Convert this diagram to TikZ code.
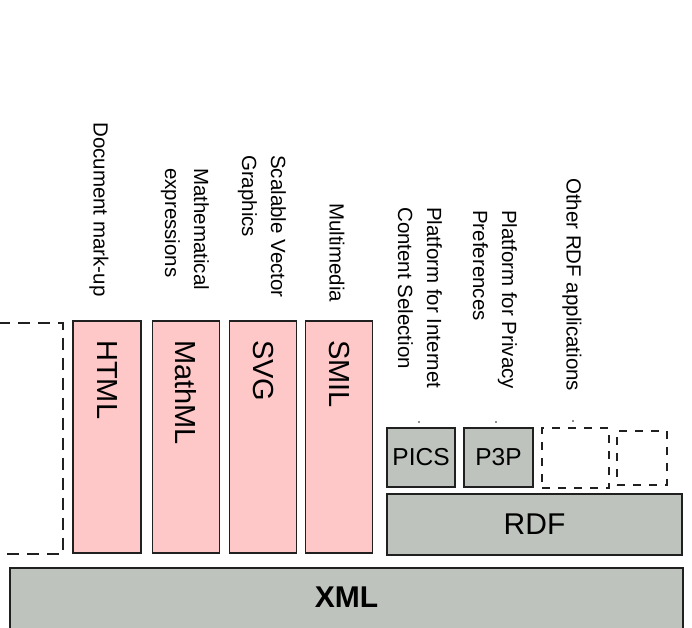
\documentclass[tikz,border=0pt]{standalone}
\usepackage{fontspec}
\setmainfont{Liberation Sans}
\definecolor{linegray}{RGB}{32,32,32}
\definecolor{langpink}{RGB}{255,200,200}
\definecolor{basegray}{RGB}{190,195,190}

\begin{document}
\begin{tikzpicture}[x=1pt,y=-1pt]
\tikzstyle{layer}=[draw=linegray,line width=1.6pt,inner sep=0pt,outer sep=0pt]
\tikzstyle{lang}=[layer,fill=langpink,minimum width=67pt,minimum height=232pt]
\tikzstyle{base}=[layer,fill=basegray]
\tikzstyle{spare}=[draw=linegray,line width=1.4pt,dash pattern=on 8pt off 8pt]
\tikzstyle{upright}=[rotate=-90,anchor=west,inner sep=0pt,align=left,font=\fontsize{20.5}{29}\selectfont]
\tikzstyle{boxname}=[rotate=-90,anchor=west,inner sep=0pt,font=\fontsize{29}{34}\selectfont]
\useasboundingbox (0,0) rectangle (692,627);

\node (xml) [base,minimum width=673pt,minimum height=72pt] at (346.5,604) {};
\node (xmlname) [font=\bfseries\fontsize{30}{34}\selectfont] at ([yshift=-29pt]xml.north) {XML};

\node (html) [lang,minimum width=68pt] at (107,437) {};
\node (mathml) [lang] at (186,437) {};
\node (svg) [lang] at (263,437) {};
\node (smil) [lang] at (339,437) {};
\node [boxname] at ([yshift=-19pt]html.north) {HTML};
\node [boxname] at ([yshift=-19pt]mathml.north) {MathML};
\node [boxname] at ([yshift=-19pt]svg.north) {SVG};
\node [boxname] at ([yshift=-19pt]smil.north) {SMIL};

\node (rdf) [base,minimum width=295pt,minimum height=61pt,font=\fontsize{30}{34}\selectfont] at (534.5,524.5) {RDF};
\node (pics) [base,minimum width=68pt,minimum height=59pt,font=\fontsize{24.5}{28}\selectfont] at (421,457.5) {PICS};
\node (ppp) [base,minimum width=69pt,minimum height=59pt,font=\fontsize{24.5}{28}\selectfont] at (498.5,457.5) {P3P};
\node (spareA) [spare,minimum width=67pt,minimum height=60pt] at (575.5,458) {};
\node (spareB) [spare,minimum width=50pt,minimum height=54pt] at (642,458) {};
\draw[spare,dash pattern=on 12pt off 8pt] (-2,323) -- (63,323) -- (63,554) -- (-2,554);

\fill[linegray] (419,422) circle (0.9pt) (496,422) circle (0.9pt) (573,421) circle (0.9pt);

\node (markup) [upright] at (99,122) {Document mark-up};
\node (mathexpr) [upright] at (185,168) {Mathematical\\expressions};
\node (vector) [upright] at (262,155) {Scalable Vector\\Graphics};
\node (media) [upright] at (337,203) {Multimedia};
\node (selection) [upright] at (420,207) {Platform for Internet\\Content Selection};
\node (privacy) [upright] at (495,210) {Platform for Privacy\\Preferences};
\node (otherrdf) [upright] at (572,178) {Other RDF applications};
\end{tikzpicture}
\end{document}
